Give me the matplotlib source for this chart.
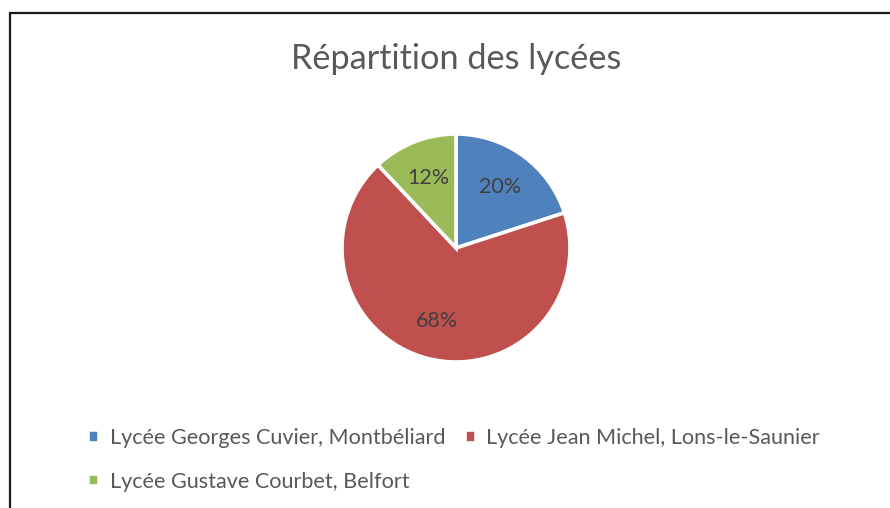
import matplotlib
matplotlib.use('Agg')
import matplotlib.pyplot as plt
from matplotlib.patches import Rectangle

# données
lycees = ['Lycée Georges Cuvier, Montbéliard',
          'Lycée Jean Michel, Lons-le-Saunier',
          'Lycée Gustave Courbet, Belfort']
parts = [20, 68, 12]
couleurs = ['#4F81BD', '#C0504D', '#9BBB59']

plt.rcParams['font.family'] = ['Lato', 'DejaVu Sans']

W, H = 890, 508
fig = plt.figure(figsize=(W / 100, H / 100), dpi=100)

# cadre du graphique (coupé à droite et en bas)
fig.patches.append(Rectangle((10 / W, -0.1), 1.2, (H - 13) / H + 0.1,
                             transform=fig.transFigure, fill=False,
                             edgecolor='#1a1a1a', linewidth=1.6))

# camembert
r = 114
cx, cy = 456, 248
ax = fig.add_axes([(cx - r) / W, 1 - (cy + r) / H, 2 * r / W, 2 * r / H])
wedges, _, autotexts = ax.pie(parts, colors=couleurs, startangle=90, counterclock=False,
                              autopct='%1.0f%%', pctdistance=0.66,
                              wedgeprops=dict(edgecolor='white', linewidth=2.6),
                              textprops=dict(color='#404040', fontsize=15.5))
ax.set_xlim(-1, 1)
ax.set_ylim(-1, 1)
ax.set_aspect('auto')
ax.axis('off')

fig.text(cx / W, 1 - 59 / H, 'Répartition des lycées', ha='center', va='center',
         fontsize=24.7, color='#595959')

# légende : ordre réarrangé pour avoir 2 éléments sur la première ligne
ordre = [0, 2, 1]
leg = fig.legend([wedges[i] for i in ordre], [lycees[i] for i in ordre],
                 ncol=2, loc='center', bbox_to_anchor=(454 / W, 1 - 460 / H),
                 frameon=False, fontsize=15.6, handlelength=0.5, handleheight=0.5,
                 handletextpad=0.5, columnspacing=0.9, labelspacing=1.1)
for t in leg.get_texts():
    t.set_color('#595959')

fig.savefig('out.png', dpi=100)
